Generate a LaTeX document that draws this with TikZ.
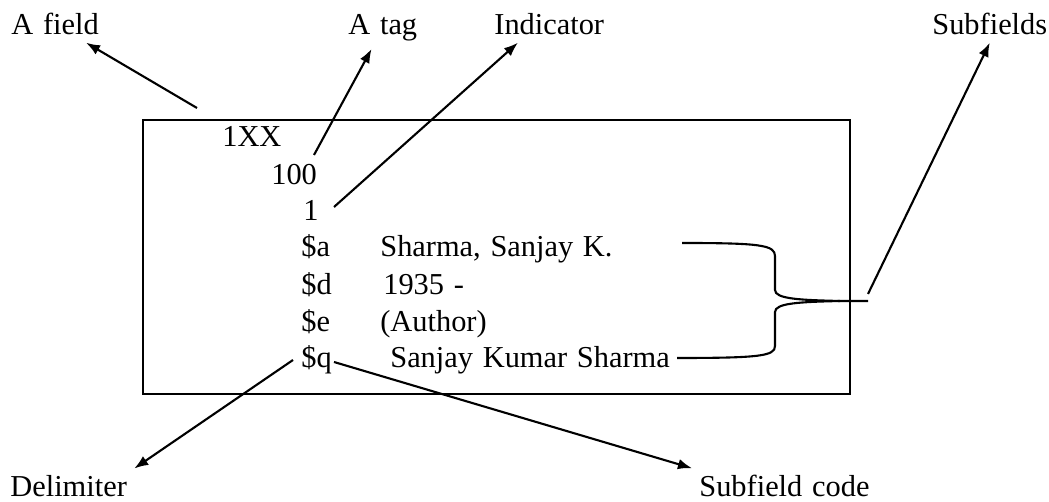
\documentclass[tikz,border=0pt]{standalone}
\usepackage{fontspec}
\setmainfont{Liberation Serif}
\usetikzlibrary{arrows.meta}
\newcommand\recfont{\fontsize{17.3}{20}\selectfont\spaceskip 0.32em\relax}

\begin{document}
\begin{tikzpicture}[x=0.02cm, y=-0.02cm,
    txt/.style={anchor=base west, inner sep=0pt, font=\recfont},
    lbl/.style={anchor=base west, inner sep=4pt, font=\recfont},
    ptr/.style={line width=1.2pt, -{Latex[length=8pt, width=6pt]}}]
            \useasboundingbox (0,0) rectangle (1049,502);

            % labels round the record
            \node[lbl] (afield) at (4,35) {A field};
            \node[lbl] (atag) at (341,35) {A tag};
            \node[lbl] (ind) at (487,35) {Indicator};
            \node[lbl] (subs) at (925,35) {Subfields};
            \node[lbl] (delim) at (3,497) {Delimiter};
            \node[lbl] (sfcode) at (692,497) {Subfield code};

            \draw[line width=1.2pt] (143,120) rectangle (850,394);

            % the 1XX field
            \node[txt] (fld) at (222,147) {1XX};
            \node[txt] (tag) at (271,185) {100};
            \node[txt] (indval) at (303,221) {1};
            \node[txt] (da) at (301,257) {\$a};
            \node[txt] (dd) at (301,295) {\$d};
            \node[txt] (de) at (301,332) {\$e};
            \node[txt] (dq) at (301,368) {\$q};
            \node[txt] (va) at (380,257) {Sharma, Sanjay K.};
            \node[txt] (vd) at (383,295) {1935 -};
            \node[txt] (ve) at (380,332) {(Author)};
            \node[txt] (vq) at (390,368) {Sanjay Kumar Sharma};

            % brace round the subfields
            \coordinate (bracetop) at (682,243);
            \coordinate (bracebot) at (677,358);
            \coordinate (bracetip) at (868,301);
            \draw[line width=1.2pt] (bracetop) .. controls (760,243) and (775,245) .. (775,256) -- (775,290)
                .. controls (775,299) and (800,300) .. (840,301) -- (bracetip);
            \draw[line width=1.2pt] (bracebot) .. controls (760,358) and (775,356) .. (775,346) -- (775,312)
                .. controls (775,303) and (800,302) .. (840,301);

            % pointers
            \coordinate (fldtail) at (197,108);
            \coordinate (tagtail) at (314,155);
            \coordinate (indtail) at (334,207);
            \coordinate (subtail) at (868,294);
            \coordinate (deltail) at (293,360);
            \coordinate (codetail) at (334,362);
            \draw[ptr] (fldtail) -- (afield);
            \draw[ptr] (tagtail) -- (atag);
            \draw[ptr] (indtail) -- (ind.210);
            \draw[ptr] (subtail) -- (subs.south);
            \draw[ptr] (deltail) -- (delim.north east);
            \draw[ptr] (codetail) -- (sfcode.north west);
        \end{tikzpicture}
\end{document}
